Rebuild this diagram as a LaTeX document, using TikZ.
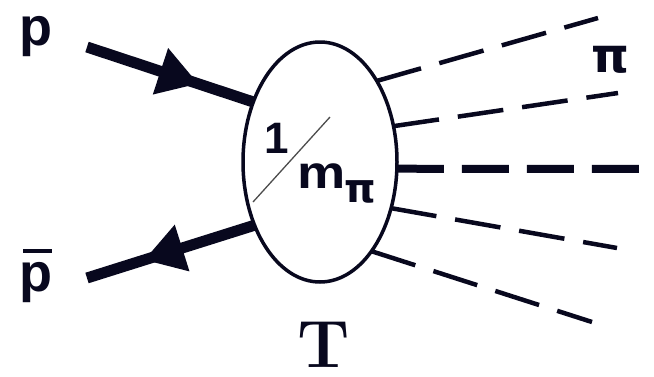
\documentclass[tikz,border=0pt]{standalone}
\usepackage{fontspec}
\newfontfamily\arialf{Liberation Sans}
\newfontfamily\dejaf{DejaVu Sans}
\usetikzlibrary{arrows.meta,decorations.markings,shapes.geometric}
\definecolor{inkc}{RGB}{8,8,30}
\tikzset{
  fermion/.style={line width=11pt, inkc},
  midarrow/.style={postaction={decorate, decoration={markings,
      mark=at position #1 with {\arrow{Triangle[length=40pt,width=46pt]}}}}},
  pionline/.style={line width=4.5pt, inkc, dash pattern=on 46pt off 19pt},
  pionthick/.style={line width=8pt, inkc, dash pattern=on 47pt off 18pt},
  blob/.style={ellipse, draw=inkc, line width=3.5pt, minimum width=154pt,
      minimum height=240pt, inner sep=0pt, outer sep=0pt},
  lbl/.style={inner sep=0pt, text=inkc, font=\arialf\bfseries\fontsize{54}{54}\selectfont},
}
\begin{document}
\begin{tikzpicture}[x=1pt,y=-1pt]
\useasboundingbox (0,0) rectangle (654,376);
\node[blob] (E) at (320,162) {};
% fermion lines
\coordinate (pin) at (87,47);
\coordinate (pout) at (87,278);
\draw[fermion, midarrow=0.67] (pin) -- (E.138.6);
\draw[fermion, midarrow=0.66] (E.-136) -- (pout);
% pion lines
\coordinate (e1) at (598,18);
\coordinate (e2) at (618,93);
\coordinate (e3) at (647,169);
\coordinate (e4) at (617,248);
\coordinate (e5) at (592,322);
\draw[pionline] (E.55.8) -- (e1);
\draw[pionline] (E.26.9) -- (e2);
\draw[pionthick] (E.-5) -- (e3);
\draw[pionline] (E.-33.7) -- (e4);
\draw[pionline] (E.-60) -- (e5);
% labels
\node[lbl, anchor=base west] (plab) at (19,45) {p};
\node[lbl, anchor=base west] (pbarlab) at (19,291)
  {\makebox[0pt][l]{\hspace{4pt}\raisebox{38pt}{\rule{29pt}{4pt}}}p};
\node[lbl, anchor=base west, font=\arialf\bfseries\fontsize{44}{44}\selectfont] (one) at (264,153) {1};
\node[lbl, anchor=base west, font=\arialf\bfseries\fontsize{46}{46}\selectfont] (m) at (297,188) {\scalebox{1.18}[1]{m}};
\node[lbl, anchor=base west, font=\dejaf\bfseries\fontsize{40}{40}\selectfont] (pisub) at (344,202) {π};
\coordinate (s1) at (330,117);
\coordinate (s2) at (253,202);
\draw[line width=1.3pt, gray!60!black] (s1) -- (s2);
\node[lbl, anchor=base west, font=\dejaf\bfseries\fontsize{48}{48}\selectfont] (pitop) at (591,72) {π};
\node[inner sep=0pt, text=inkc, anchor=base, font=\bfseries\fontsize{67}{67}\selectfont] (T) at (323.5,367) {T};
\end{tikzpicture}
\end{document}
